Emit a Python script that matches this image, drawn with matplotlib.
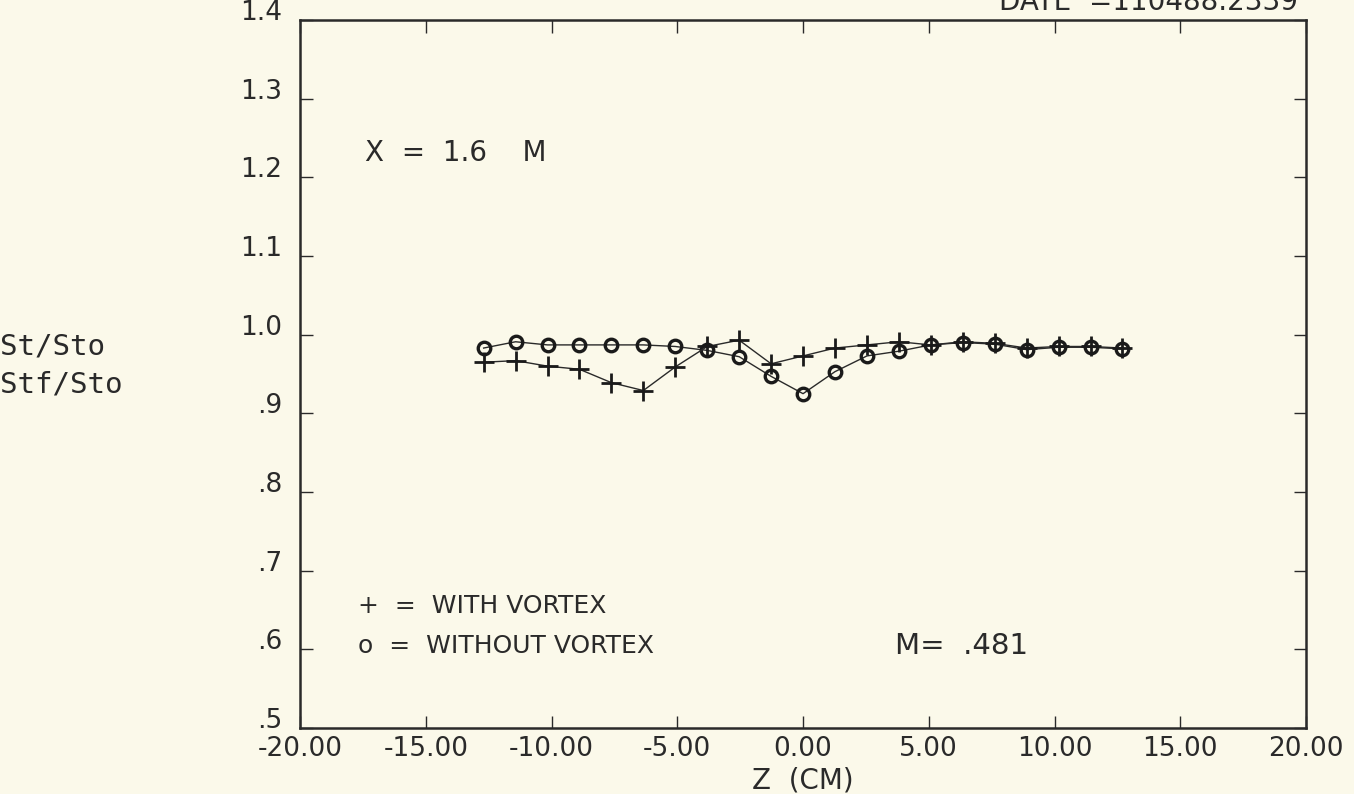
import matplotlib
matplotlib.use("Agg")
import matplotlib.pyplot as plt
import matplotlib.transforms as mtransforms
import numpy as np

# spanwise stations, 0.5 in apart
z_cm = [-12.70, -11.43, -10.16, -8.89, -7.62, -6.35, -5.08, -3.81, -2.54, -1.27, 0.00,
        1.27, 2.54, 3.81, 5.08, 6.35, 7.62, 8.89, 10.16, 11.43, 12.70]

# St/Sto, with vortex
st_with = [0.965, 0.967, 0.960, 0.956, 0.939, 0.929, 0.959, 0.985, 0.993, 0.963, 0.973,
           0.983, 0.987, 0.991, 0.987, 0.991, 0.989, 0.983, 0.985, 0.985, 0.983]

# Stf/Sto, without vortex
st_without = [0.983, 0.991, 0.987, 0.987, 0.987, 0.987, 0.985, 0.980, 0.972, 0.947, 0.925,
              0.953, 0.973, 0.979, 0.987, 0.990, 0.988, 0.981, 0.984, 0.984, 0.982]

xticks = [-20, -15, -10, -5, 0, 5, 10, 15, 20]
xtick_labels = ["-20.00", "-15.00", "-10.00", "-5.00", "0.00", "5.00", "10.00", "15.00", "20.00"]
yticks = [0.5, 0.6, 0.7, 0.8, 0.9, 1.0, 1.1, 1.2, 1.3, 1.4]
ytick_labels = [".5", ".6", ".7", ".8", ".9", "1.0", "1.1", "1.2", "1.3", "1.4"]

paper = "#fbf9ea"
ink = "#2a2a2a"
plt.rcParams['font.family'] = ['Liberation Sans Narrow', 'DejaVu Sans']

fig = plt.figure(figsize=(13.54, 7.94), dpi=100, facecolor=paper)
# plot frame: x 300..1306 px, y 20..728 px
ax = fig.add_axes([0.2216, 0.0831, 0.7430, 0.8917])
ax.set_facecolor(paper)

ax.plot(z_cm, st_without, color=ink, lw=1.0, marker="o", ms=9, mfc="none",
        mec="#1a1a1a", mew=2.4)
ax.plot(z_cm, st_with, color=ink, lw=1.0, marker="+", ms=14, mew=2.0, mec="#1a1a1a")

ax.set_xlim(-20, 20)
ax.set_ylim(0.5, 1.4)
ax.set_xticks(xticks)
ax.set_xticklabels(xtick_labels)
ax.set_yticks(yticks)
ax.set_yticklabels(ytick_labels)
ax.tick_params(axis="both", direction="in", length=9, width=1.0, color=ink,
               labelcolor=ink, labelsize=19, top=True, right=True)
ax.tick_params(axis="y", pad=13)
ax.tick_params(axis="x", pad=6)
for s in ax.spines.values():
    s.set_color(ink)
    s.set_linewidth(1.8)

# y labels sit a little above their ticks
lift = mtransforms.ScaledTranslation(0, 10 / 100, fig.dpi_scale_trans)
for lab in ax.get_yticklabels():
    lab.set_transform(lab.get_transform() + lift)

ax.set_xlabel("Z  (CM)", fontsize=20, color=ink, labelpad=3)

fig.text(0.0, 0.564, "St/Sto", fontsize=21, color=ink, ha="left", va="center",
         family="DejaVu Sans Mono")
fig.text(0.0, 0.516, "Stf/Sto", fontsize=21, color=ink, ha="left", va="center",
         family="DejaVu Sans Mono")

ax.text(-17.4, 1.231, "X  =  1.6    M", fontsize=20, color=ink, va="center")
ax.text(-17.7, 0.655, "+  =  WITH VORTEX", fontsize=18, color=ink, va="center")
ax.text(-17.7, 0.604, "o  =  WITHOUT VORTEX", fontsize=18, color=ink, va="center")
ax.text(3.66, 0.604, "M=  .481", fontsize=21, color=ink, va="center")

fig.text(0.738, 0.997, "DATE  =110488.2339", fontsize=20, color=ink, va="center")

fig.savefig("out.png", dpi=100, facecolor=paper)
